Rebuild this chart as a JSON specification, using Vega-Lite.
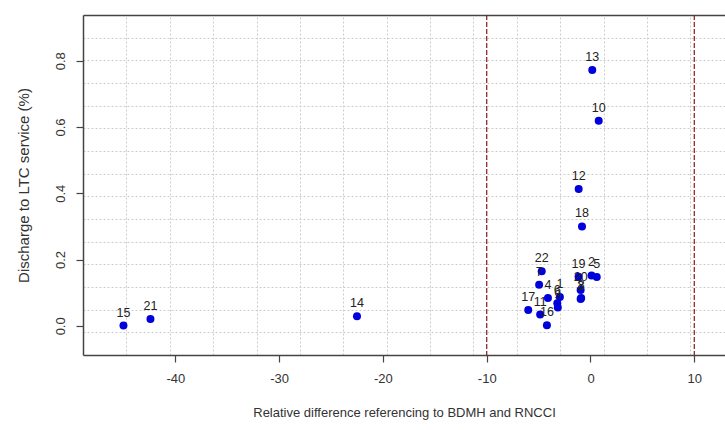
{
  "$schema": "https://vega.github.io/schema/vega-lite/v6.json",
  "width": 642,
  "height": 340,
  "autosize": "none",
  "padding": {"left": 83, "top": 15, "right": 0, "bottom": 75},
  "background": "white",
  "config": {
    "view": {"stroke": null},
    "font": "Liberation Sans",
    "axis": {
      "domainColor": "#444444",
      "domainWidth": 1.5,
      "tickColor": "#444444",
      "tickWidth": 1.2,
      "tickSize": 7,
      "labelFont": "Liberation Sans",
      "labelFontSize": 13,
      "labelColor": "#333333",
      "titleFont": "Liberation Sans",
      "titleFontSize": 13,
      "titleFontWeight": "normal",
      "titleColor": "#333333",
      "labelFlush": false,
      "labelOverlap": false,
      "gridColor": "#cccccc",
      "gridDash": [2, 2],
      "gridWidth": 1
    }
  },
  "data": {
    "values": [
      {"id": 1, "reldiff": -2.95, "discharge": 0.087},
      {"id": 2, "reldiff": 0.1, "discharge": 0.152},
      {"id": 3, "reldiff": -0.95, "discharge": 0.081},
      {"id": 4, "reldiff": -4.1, "discharge": 0.084},
      {"id": 5, "reldiff": 0.6, "discharge": 0.147},
      {"id": 6, "reldiff": -3.2, "discharge": 0.068},
      {"id": 7, "reldiff": -4.95, "discharge": 0.124},
      {"id": 8, "reldiff": -0.9, "discharge": 0.084},
      {"id": 9, "reldiff": -3.15, "discharge": 0.055},
      {"id": 10, "reldiff": 0.79, "discharge": 0.619},
      {"id": 11, "reldiff": -4.85, "discharge": 0.034},
      {"id": 12, "reldiff": -1.14, "discharge": 0.413},
      {"id": 13, "reldiff": 0.17, "discharge": 0.772},
      {"id": 14, "reldiff": -22.5, "discharge": 0.029},
      {"id": 15, "reldiff": -45.0, "discharge": 0.001},
      {"id": 16, "reldiff": -4.2, "discharge": 0.002},
      {"id": 17, "reldiff": -6.0, "discharge": 0.048},
      {"id": 18, "reldiff": -0.82, "discharge": 0.3},
      {"id": 19, "reldiff": -1.15, "discharge": 0.148},
      {"id": 20, "reldiff": -0.95, "discharge": 0.108},
      {"id": 21, "reldiff": -42.4, "discharge": 0.021},
      {"id": 22, "reldiff": -4.7, "discharge": 0.165}
    ]
  },
  "layer": [
    {
      "mark": {"type": "circle", "size": 64, "color": "#0000dd", "opacity": 1},
      "encoding": {
        "x": {
          "field": "reldiff",
          "type": "quantitative",
          "scale": {"domain": [-48.9, 12.96], "nice": false, "zero": false},
          "axis": {
            "orient": "bottom",
            "values": [-40, -30, -20, -10, 0, 10],
            "labelExpr": "toString(datum.value)",
            "labelPadding": 10,
            "grid": false,
            "title": "Relative difference referencing to BDMH and RNCCI",
            "titlePadding": 21
          }
        },
        "y": {
          "field": "discharge",
          "type": "quantitative",
          "scale": {"domain": [-0.088, 0.938], "nice": false, "zero": false},
          "axis": {
            "orient": "left",
            "values": [0, 0.2, 0.4, 0.6, 0.8],
            "format": ".1f",
            "labelAngle": -90,
            "labelAlign": "center",
            "labelBaseline": "bottom",
            "labelPadding": 9,
            "grid": false,
            "title": "Discharge to LTC service (%)",
            "titleFontSize": 15,
            "titlePadding": 23
          }
        }
      }
    },
    {
      "mark": {"type": "text", "fontSize": 12.5, "color": "#222222", "baseline": "alphabetic", "dy": -9},
      "encoding": {
        "x": {
          "field": "reldiff",
          "type": "quantitative",
          "axis": {
            "orient": "top",
            "values": [-44.72, -40.54, -36.36, -32.18, -28.0, -23.82, -19.64, -15.46, -11.28, -7.1, -2.92, 1.26, 5.44, 9.62],
            "grid": true,
            "labels": false,
            "ticks": false,
            "domain": true,
            "title": null
          }
        },
        "y": {
          "field": "discharge",
          "type": "quantitative",
          "axis": {
            "orient": "right",
            "values": [-0.0196, 0.0488, 0.1172, 0.1856, 0.254, 0.3224, 0.3908, 0.4592, 0.5276, 0.596, 0.6644, 0.7328, 0.8012, 0.8696],
            "grid": true,
            "labels": false,
            "ticks": false,
            "domain": false,
            "title": null
          }
        },
        "text": {"field": "id", "type": "nominal"}
      }
    },
    {
      "data": {"values": [{"threshold": -10}, {"threshold": 10}]},
      "mark": {"type": "rule", "color": "#8e1616", "strokeWidth": 1.2, "strokeDash": [5, 2]},
      "encoding": {
        "x": {"field": "threshold", "type": "quantitative", "axis": null}
      }
    }
  ],
  "resolve": {"axis": {"x": "independent", "y": "independent"}}
}
